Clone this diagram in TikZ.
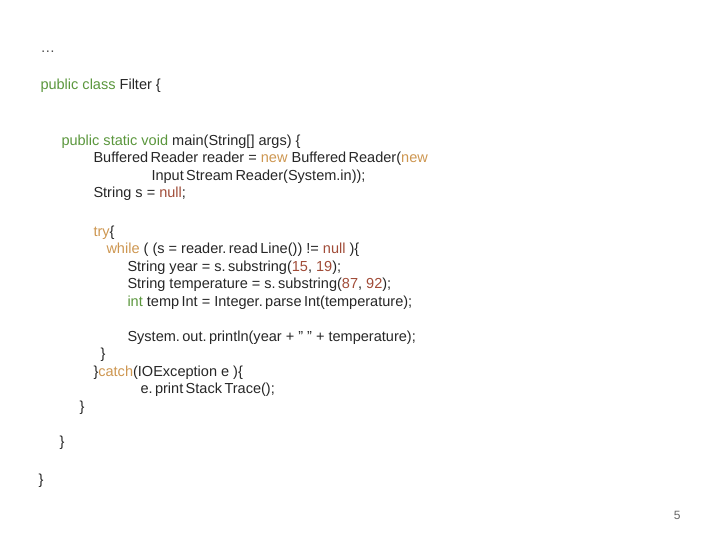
\documentclass[tikz,border=0pt]{standalone}
\usepackage{fontspec}
\setmainfont{Liberation Sans}
\definecolor{kwgreen}{RGB}{90,150,60}
\definecolor{kworange}{RGB}{205,150,80}
\definecolor{litred}{RGB}{160,75,55}
\newcommand{\kg}[1]{\textcolor{kwgreen}{#1}}
\newcommand{\ko}[1]{\textcolor{kworange}{#1}}
\newcommand{\kr}[1]{\textcolor{litred}{#1}}
\tikzset{every picture/.style={line width=0.75pt}}
\tikzset{code/.style={anchor=base west,inner sep=0pt,font=\fontsize{10.9}{12}\selectfont,text=black!85}}
\begin{document}
\begin{tikzpicture}[x=0.75pt,y=0.75pt,yscale=-1,xscale=1]
\path[use as bounding box] (0,0) rectangle (720,540);

% Text Node
\node[code] (dots) at (40,52) {\textcolor{black!70}{\ldots}};
% Text Node
\node[code] (cls) at (40,89) {\kg{public class} Filter \{};
% Text Node
\node[code] (main) at (61,145) {\kg{public static void} main(String[] args) \{};
\node[code] (buf) at (93,162) {Buffered\,Reader reader = \ko{new} Buffered\,Reader(\ko{new}};
\node[code] (isr) at (151,180) {Input\,Stream\,Reader(System.in));};
\node[code] (str) at (93,197) {String s = \kr{null};};
% Text Node
\node[code] (try) at (93,236) {\ko{try}\{};
\node[code] (whl) at (106,253) {\ko{while} ( (s = reader.\,read\,Line()) != \kr{null} )\{};
\node[code] (yr) at (127,271) {String year = s.\,substring(\kr{15}, \kr{19});};
\node[code] (tmp) at (127,288) {String temperature = s.\,substring(\kr{87}, \kr{92});};
\node[code] (int) at (127,306) {\kg{int} temp\,Int = Integer.\,parse\,Int(temperature);};
\node[code] (prn) at (127,341) {System.\,out.\,println(year + " " + temperature);};
\node[code] (cw) at (100,358) {\}};
\node[code] (ctch) at (93,376) {\}\ko{catch}(IOException e )\{};
\node[code] (ept) at (140,393) {e.\,print\,Stack\,Trace();};
\node[code] (cm) at (79,411) {\}};
% Text Node
\node[code] (cmain) at (59,446) {\}};
\node[code] (ccls) at (38,484) {\}};
% Text Node
\node[anchor=base east,inner sep=0pt,font=\fontsize{9}{10}\selectfont,text=black!60] (pg) at (681,519) {5};

\end{tikzpicture}
\end{document}
